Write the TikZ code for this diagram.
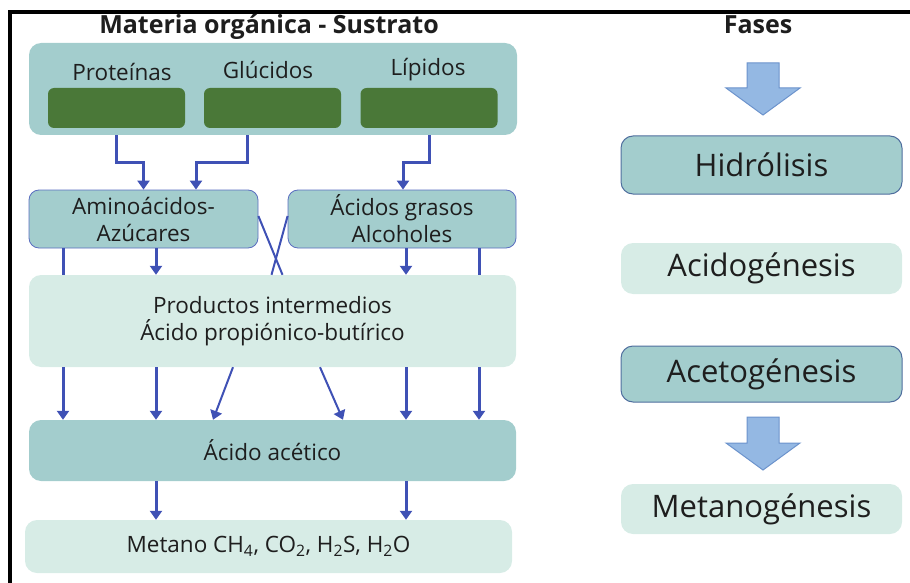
\documentclass[tikz,border=0pt]{standalone}
\usepackage[x11names,svgnames]{xcolor}
\usepackage{fontspec}
\setmainfont{Open Sans}
\usetikzlibrary{arrows.meta}

\definecolor{tealbox}{HTML}{A3CDCD}
\definecolor{lightbox}{HTML}{D7ECE6}
\definecolor{leafgreen}{HTML}{4A7838}
\definecolor{flowblue}{HTML}{3F51B5}
\definecolor{edgeblue}{HTML}{5A6EC0}
\definecolor{slateedge}{HTML}{4F6E9E}
\definecolor{bigarrow}{HTML}{94B8E3}
\definecolor{bigarrowedge}{HTML}{6C93CC}
\definecolor{ink}{HTML}{1E1E1E}

\tikzset{
  darkbox/.style={fill=tealbox, rounded corners=12pt},
  lightbox/.style={fill=lightbox, rounded corners=12pt},
  greenbox/.style={fill=leafgreen, rounded corners=6pt, minimum width=137, minimum height=40},
  wide/.style={minimum width=487},
  flow/.style={draw=flowblue, line width=3pt, -{Triangle[width=12pt,length=9pt]}},
  flowline/.style={draw=flowblue, line width=3pt},
  cross/.style={draw=flowblue, line width=2pt},
  fase/.style={minimum width=281, font=\fontsize{31}{35}\selectfont},
  bigdown/.style={fill=bigarrow, draw=bigarrowedge, line width=1pt},
  heading/.style={anchor=base, font=\fontsize{25}{30}\selectfont\bfseries}
}

\begin{document}
\begin{tikzpicture}[x=1pt,y=-1pt,
    every node/.style={font=\fontsize{22.5}{27}\selectfont, text=ink, align=center, inner sep=0pt}]
  \useasboundingbox (0,0) rectangle (910,583);

  % marco
  \draw [line width=3.5pt] (10,583) -- (10,12) -- (910,12);

  % titulos
  \node [heading] (titulo) at (269,34) {Materia orgánica - Sustrato};
  \node [heading] (fases) at (758,34) {Fases};

  % sustrato
  \node [darkbox, minimum width=488, minimum height=92] (sustrato) at (273,89) {};
  \node [greenbox] (prot) at (116.5,108) {};
  \node [greenbox] (gluc) at (272.5,108) {};
  \node [greenbox] (lip)  at (429,108) {};
  \node (lprot) at (122,72) {Proteínas};
  \node (lgluc) at (268,70) {Glúcidos};
  \node (llip)  at (428,70) {Lípidos};

  % productos
  \node [darkbox, rounded corners=10pt, draw=edgeblue, line width=0.8pt,
         minimum width=229, minimum height=58] (amino) at (143.5,219)
        {Aminoácidos-\\Azúcares};
  \node [darkbox, rounded corners=10pt, draw=edgeblue, line width=0.8pt,
         minimum width=228, minimum height=58] (acidos) at (402,219)
        {Ácidos grasos\\Alcoholes};
  \node [lightbox, wide, minimum height=92] (inter) at (272.5,321)
        {Productos intermedios\\Ácido propiónico-butírico};
  \node [darkbox, wide, minimum height=61] (acetico) at (272.5,450.5) {Ácido acético};
  \node [lightbox, wide, minimum height=53] (metano) at (268.5,546.5)
        {Metano CH\textsubscript{4}, CO\textsubscript{2}, H\textsubscript{2}S, H\textsubscript{2}O};

  % columnas
  \coordinate (c1) at (63,0);
  \coordinate (c2) at (156,0);
  \coordinate (c3) at (406,0);
  \coordinate (c4) at (479,0);

  % hidrolisis
  \draw [flow] (prot.south |- sustrato.south) -- ++(0,27) -| (amino.north);
  \draw [flow] ([xshift=-25.5pt]gluc.south |- sustrato.south) -- ++(0,27) -| ([xshift=52.5pt]amino.north);
  \draw [flow] (lip.south |- sustrato.south) -- ++(0,27) -| ([xshift=1pt]acidos.north);

  % acidogenesis
  \draw [flowline] (amino.south -| c1) -- (inter.north -| c1);
  \draw [flow]     (amino.south -| c2) -- (inter.north -| c2);
  \draw [flow]     (acidos.south -| c3) -- (inter.north -| c3);
  \draw [flowline] (acidos.south -| c4) -- (inter.north -| c4);
  \draw [cross] ([yshift=3pt]amino.east) -- ([xshift=10pt]inter.north);
  \draw [cross] ([yshift=3pt]acidos.west) -- ([xshift=-1pt]inter.north);

  % acetogenesis
  \draw [flow] (inter.south -| c1) -- (acetico.north -| c1);
  \draw [flow] (inter.south -| c2) -- (acetico.north -| c2);
  \draw [flow, line width=2pt] ([xshift=-39.5pt]inter.south) -- ([xshift=-59.5pt]acetico.north);
  \draw [flow, line width=2pt] ([xshift=47.5pt]inter.south) -- ([xshift=70.5pt]acetico.north);
  \draw [flow] (inter.south -| c3) -- (acetico.north -| c3);
  \draw [flow] (inter.south -| c4) -- (acetico.north -| c4);

  % metanogenesis
  \draw [flow] (acetico.south -| c2) -- (metano.north -| c2);
  \draw [flow] (acetico.south -| c3) -- (metano.north -| c3);

  % fases
  \node [darkbox, fase, draw=slateedge, line width=1pt, minimum height=58] (hidro) at (761.5,165) {Hidrólisis};
  \node [lightbox, fase, minimum height=51] (acido) at (761.5,268.5) {Acidogénesis};
  \node [darkbox, fase, draw=slateedge, line width=1pt, minimum height=56] (aceto) at (761.5,374) {Acetogénesis};
  \node [lightbox, fase, minimum height=50] (metanog) at (761.5,509) {Metanogénesis};

  \coordinate (f1) at (763,63);
  \coordinate (f2) at (763,417);
  \draw [bigdown] (f1) ++(-16,0) -- ++(32,0) -- ++(0,25) -- ++(21,0) -- ++(-37,27)
                  -- ++(-37,-27) -- ++(21,0) -- cycle;
  \draw [bigdown] (f2) ++(-16,0) -- ++(32,0) -- ++(0,26) -- ++(21,0) -- ++(-37,27)
                  -- ++(-37,-27) -- ++(21,0) -- cycle;
\end{tikzpicture}
\end{document}
